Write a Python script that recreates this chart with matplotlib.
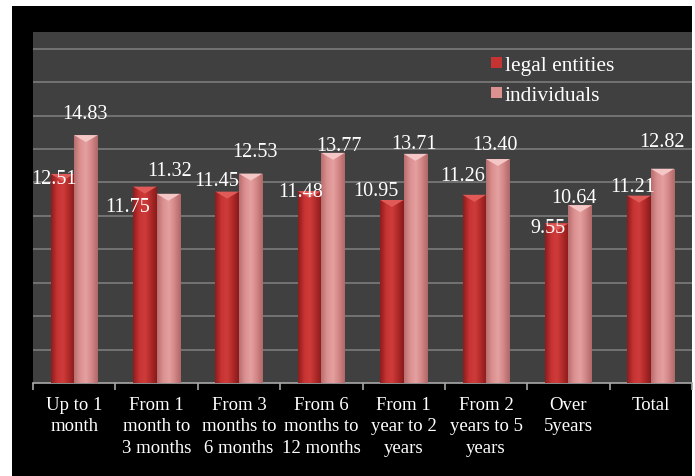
import numpy as np
import matplotlib
matplotlib.use("Agg")
import matplotlib.pyplot as plt
from matplotlib.patches import Rectangle, Polygon, Patch
from matplotlib.colors import LinearSegmentedColormap

categories = ["Up to 1\nmonth", "From 1\nmonth to\n3 months", "From 3\nmonths to\n6 months",
              "From 6\nmonths to\n12 months", "From 1\nyear to 2\nyears", "From 2\nyears to 5\nyears",
              "Over\n5years", "Total"]
legal_entities = [12.51, 11.75, 11.45, 11.48, 10.95, 11.26, 9.55, 11.21]
individuals = [14.83, 11.32, 12.53, 13.77, 13.71, 13.40, 10.64, 12.82]
series_names = ["legal entities", "individuals"]

# label offsets in pixels (dx, dy upward) -- layout only
red_off = [(-8.5, -5), (-17, -20), (-11, 11), (-9, 0), (-16, 9), (-12, 19), (-9, -4), (-6, 9)]
pink_off = [(-1, 22), (1, 23), (4, 22), (6, 7), (-1.5, 10), (-3, 15), (-6, 8), (-1, 27)]

plt.rcParams['font.family'] = ['Liberation Serif', 'DejaVu Serif']

W, H = 695, 477
fig = plt.figure(figsize=(W / 100, H / 100), dpi=100)
fig.patch.set_facecolor("white")
fig.add_artist(Rectangle((12 / W, 0), (692 - 12) / W, 1 - 7 / H, transform=fig.transFigure,
                         facecolor="black", edgecolor="none", zorder=0))

ax = fig.add_axes([33 / W, 1 - 384 / H, (692 - 33) / W, (384 - 33) / H])
ax.set_facecolor("#404040")
ymax = 21
ax.set_ylim(0, ymax)
ax.set_xlim(-0.5, len(categories) - 0.5)

for g in np.arange(2, 21, 2):
    ax.axhline(g, color="#7c7c7c", lw=1.2, zorder=1)

x = np.arange(len(categories))
bw = 0.285
bars_r = ax.bar(x - bw / 2, legal_entities, bw, color="#bb3030", zorder=3)
bars_p = ax.bar(x + bw / 2, individuals, bw, color="#d98a8a", zorder=3)

cmap_r = LinearSegmentedColormap.from_list("r", ["#8e1c1c", "#c53333", "#cf3c3a", "#b02a2a", "#8a1a1a"])
cmap_p = LinearSegmentedColormap.from_list("p", ["#b86e6e", "#dc9090", "#e4a0a0", "#d28686", "#b06868"])
grad = np.linspace(0, 1, 64).reshape(1, -1)

ax_h_px = 384 - 33
bevel = 7 * ymax / ax_h_px
for bars, cmap, topcol in ((bars_r, cmap_r, "#e05a58"), (bars_p, cmap_p, "#f4c6c6")):
    for b in bars:
        x0, w, h = b.get_x(), b.get_width(), b.get_height()
        im = ax.imshow(grad, cmap=cmap, extent=[x0, x0 + w, 0, h], aspect="auto", zorder=3.5,
                       interpolation="bilinear")
        im.set_clip_path(b)
        ax.add_patch(Polygon([[x0, h], [x0 + w, h], [x0 + w / 2, h - bevel]], closed=True,
                             facecolor=topcol, edgecolor="none", zorder=4))

ax.set_xlim(-0.5, len(categories) - 0.5)
ax.set_ylim(0, ymax)

for bars, vals, offs in ((bars_r, legal_entities, red_off), (bars_p, individuals, pink_off)):
    for b, v, (dx, dy) in zip(bars, vals, offs):
        ax.annotate(f"{v:.2f}", (b.get_x() + b.get_width() / 2, b.get_height()),
                    xytext=(dx, dy), textcoords="offset pixels", ha="center", va="center",
                    color="white", fontsize=14.5, zorder=6)

for s in ["top", "right", "left"]:
    ax.spines[s].set_visible(False)
ax.spines["bottom"].set_color("#a8a8a8")
ax.spines["bottom"].set_linewidth(1.2)
ax.set_yticks([])
ax.set_xticks(np.arange(-0.5, len(categories), 1), minor=False)
ax.set_xticklabels([])
ax.tick_params(axis="x", which="major", length=5, color="#a8a8a8", width=1.2)
ax.set_xticks(x, minor=True)
ax.set_xticklabels(categories, minor=True)
ax.tick_params(axis="x", which="minor", length=0, pad=9, labelcolor="white", labelsize=13.5)
for t in ax.get_xticklabels(minor=True):
    t.set_linespacing(1.36)
    t.set_verticalalignment("top")

handles = [Patch(facecolor="#c53333", edgecolor="none"), Patch(facecolor="#dc9090", edgecolor="none")]
leg = fig.legend(handles, series_names, loc="upper left", bbox_to_anchor=(491 / W, 1 - 57 / H),
                 frameon=False, fontsize=15.5, labelcolor="white", handlelength=0.5, handleheight=0.45,
                 handletextpad=0.15, labelspacing=0.52, borderpad=0, borderaxespad=0)

fig.savefig("out.png", dpi=100, facecolor=fig.get_facecolor())
